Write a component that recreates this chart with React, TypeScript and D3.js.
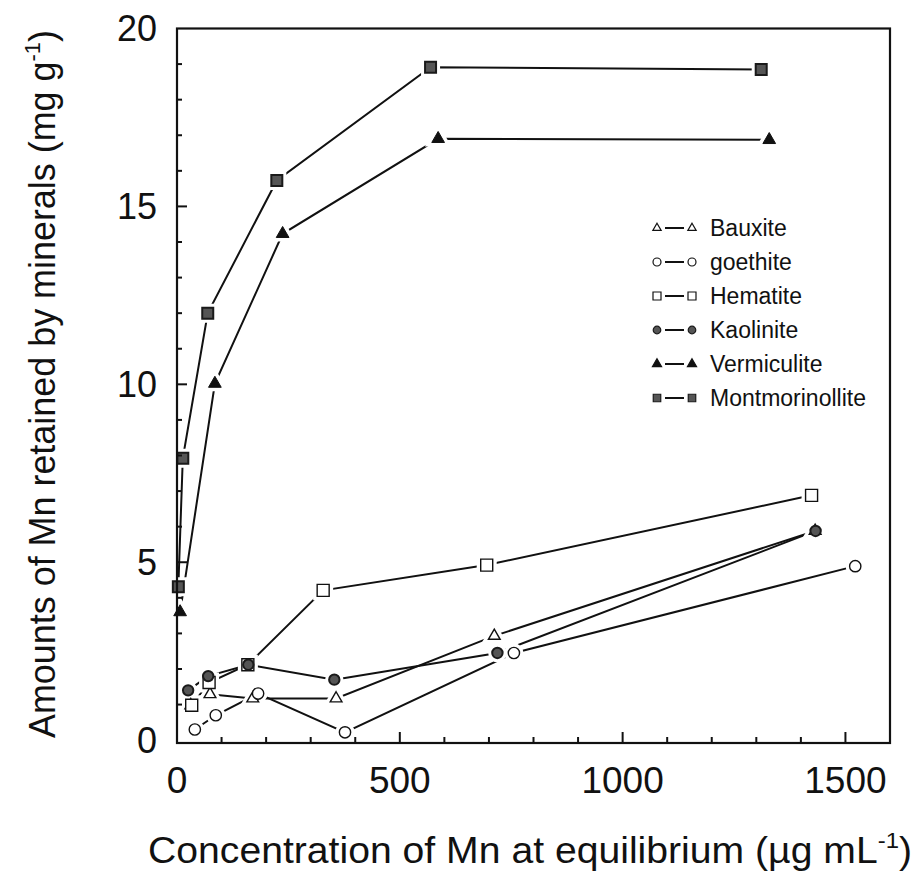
import React from "react";
import * as d3 from "d3";

// ---------- data ----------
const seriesNames = ["Bauxite", "goethite", "Hematite", "Kaolinite", "Vermiculite", "Montmorinollite"];

const bauxiteX = [31, 74, 170, 357, 712, 1432];
const bauxiteY = [0.98, 1.29, 1.17, 1.17, 2.93, 5.88];

const goethiteX = [40, 87, 182, 377, 756, 1522];
const goethiteY = [0.3, 0.7, 1.31, 0.22, 2.45, 4.89];

const hematiteX = [33, 72, 159, 328, 695, 1424];
const hematiteY = [0.98, 1.62, 2.12, 4.21, 4.92, 6.88];

const kaoliniteX = [25, 70, 160, 353, 719, 1433];
const kaoliniteY = [1.4, 1.8, 2.12, 1.7, 2.45, 5.88];

const vermiculiteX = [7, 85, 237, 586, 1329];
const vermiculiteY = [3.6, 10.02, 14.23, 16.9, 16.87];

const montmorilloniteX = [3, 13, 69, 224, 569, 1311];
const montmorilloniteY = [4.31, 7.92, 12.0, 15.73, 18.91, 18.85];

const xTickLabels = [0, 500, 1000, 1500];
const yTickLabels = [0, 5, 10, 15, 20];

// ---------- styles ----------
type Style = { shape: d3.SymbolType; size: number; legendSize: number; fill: string; stroke: string; sw: number };
const styles: Style[] = [
  { shape: d3.symbolTriangle, size: 60, legendSize: 30, fill: "#fff", stroke: "#111", sw: 1.4 },
  { shape: d3.symbolCircle, size: 100, legendSize: 50, fill: "#fff", stroke: "#111", sw: 1.4 },
  { shape: d3.symbolSquare, size: 144, legendSize: 64, fill: "#fff", stroke: "#111", sw: 1.4 },
  { shape: d3.symbolCircle, size: 85, legendSize: 45, fill: "#555", stroke: "#1a1a1a", sw: 2 },
  { shape: d3.symbolTriangle, size: 70, legendSize: 36, fill: "#111", stroke: "#111", sw: 1 },
  { shape: d3.symbolSquare, size: 121, legendSize: 56, fill: "#555", stroke: "#1a1a1a", sw: 2 },
];

const xs = [bauxiteX, goethiteX, hematiteX, kaoliniteX, vermiculiteX, montmorilloniteX];
const ys = [bauxiteY, goethiteY, hematiteY, kaoliniteY, vermiculiteY, montmorilloniteY];
// drawing order so that kaolinite sits on top of the shared end point
const drawOrder = [0, 1, 2, 4, 5, 3];

const FONT = "'Liberation Sans', Arial, Helvetica, sans-serif";

export default function App() {
  const W = 920, H = 875;
  const left = 177, right = 890, top = 28.5, bottom = 743;
  const x = d3.scaleLinear().domain([0, 1600]).range([left, right]);
  const y = d3.scaleLinear().domain([-0.08, 20]).range([bottom, top]);

  const line = d3.line<[number, number]>().x((d) => x(d[0])).y((d) => y(d[1]));
  const pts = (i: number): [number, number][] => xs[i].map((v, j) => [v, ys[i][j]]);

  const xMinor = x.ticks(16).filter((t) => t > 0 && t < 1600);
  const yMinor = y.ticks(20).filter((t) => t > 0 && t < 20);

  const legendX = 657, legendTextX = 710, legendY0 = 228, legendStep = 34;

  return (
    <svg width={W} height={H} style={{ position: "absolute", left: 0, top: 0, background: "#fff" }} fontFamily={FONT}>
      <rect x={0} y={0} width={W} height={H} fill="#fff" />
      {/* series lines */}
      {drawOrder.map((i) => (
        <path key={"l" + i} d={line(pts(i)) || ""} fill="none" stroke="#111" strokeWidth={2} />
      ))}
      {/* halos that break lines near markers */}
      {drawOrder.map((i) =>
        pts(i).map((p, j) => (
          <path
            key={"h" + i + "-" + j}
            d={d3.symbol().type(styles[i].shape).size(styles[i].size)() || ""}
            transform={`translate(${x(p[0])},${y(p[1])})`}
            fill="#fff"
            stroke="#fff"
            strokeWidth={8}
          />
        ))
      )}
      {/* markers */}
      {drawOrder.map((i) =>
        pts(i).map((p, j) => (
          <path
            key={"m" + i + "-" + j}
            d={d3.symbol().type(styles[i].shape).size(styles[i].size)() || ""}
            transform={`translate(${x(p[0])},${y(p[1])})`}
            fill={styles[i].fill}
            stroke={styles[i].stroke}
            strokeWidth={styles[i].sw}
          />
        ))
      )}

      {/* frame */}
      <rect x={left} y={top} width={right - left} height={bottom - top} fill="none" stroke="#111" strokeWidth={2.2} />

      {/* x ticks (inward) */}
      {xMinor.map((t) => (
        <line key={"xt" + t} x1={x(t)} x2={x(t)} y1={bottom} y2={bottom - (t % 500 === 0 ? 11 : 6)} stroke="#111" strokeWidth={2} />
      ))}
      {/* y ticks (inward) */}
      {yMinor.map((t) => (
        <line key={"yt" + t} x1={left} x2={left + (t % 5 === 0 ? 10 : 5)} y1={y(t)} y2={y(t)} stroke="#111" strokeWidth={2} />
      ))}

      {/* x tick labels */}
      {xTickLabels.map((t) => (
        <text key={"xl" + t} x={x(t)} y={793} textAnchor="middle" fontSize={37} fill="#111">
          {t}
        </text>
      ))}
      {/* y tick labels */}
      {yTickLabels.map((t) => (
        <text key={"yl" + t} x={157} y={y(t)} dy="0.36em" textAnchor="end" fontSize={36} fill="#111">
          {t}
        </text>
      ))}

      {/* x title */}
      <text x={148} y={863} fontSize={36} fill="#111" textLength={764} lengthAdjust="spacingAndGlyphs">
        Concentration of Mn at equilibrium (µg mL
        <tspan fontSize={22} dy={-15}>-1</tspan>
        <tspan dy={15}>)</tspan>
      </text>

      {/* y title */}
      <text
        transform={`translate(55, 384) rotate(-90)`}
        textAnchor="middle"
        fontSize={36}
        fill="#111"
        textLength={708}
        lengthAdjust="spacingAndGlyphs"
      >
        Amounts of Mn retained by minerals (mg g
        <tspan fontSize={22} dy={-15}>-1</tspan>
        <tspan dy={15}>)</tspan>
      </text>

      {/* legend */}
      {seriesNames.map((name, i) => {
        const ly = legendY0 + i * legendStep;
        const sym = d3.symbol().type(styles[i].shape).size(styles[i].legendSize)() || "";
        return (
          <g key={"lg" + i}>
            <line x1={legendX + 8} x2={legendX + 27} y1={ly} y2={ly} stroke="#111" strokeWidth={2} />
            <path d={sym} transform={`translate(${legendX},${ly})`} fill={styles[i].fill} stroke={styles[i].stroke} strokeWidth={1.2} />
            <path d={sym} transform={`translate(${legendX + 35},${ly})`} fill={styles[i].fill} stroke={styles[i].stroke} strokeWidth={1.2} />
            <text x={legendTextX} y={ly} dy="0.36em" fontSize={23} fill="#111">
              {name}
            </text>
          </g>
        );
      })}
    </svg>
  );
}
